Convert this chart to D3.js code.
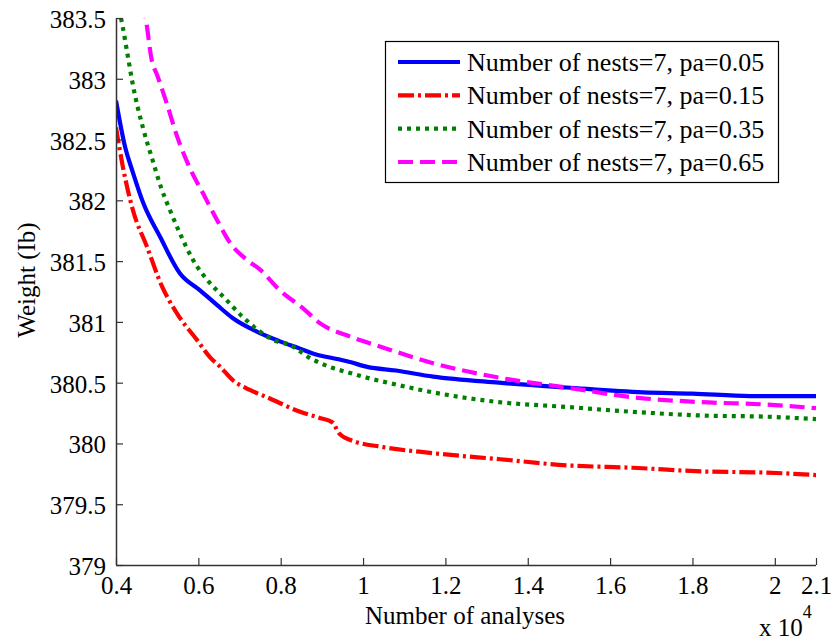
<!DOCTYPE html>
<html>
<head>
<meta charset="utf-8">
<script src="https://cdn.jsdelivr.net/npm/d3@7"></script>
<style>
  html, body { margin: 0; padding: 0; background: #fff; }
  svg { display: block; font-family: "Liberation Serif", "Times New Roman", serif; }
</style>
</head>
<body>
<svg id="chart" width="831" height="641"></svg>
<script>
// ---- data (x in units of 1e4 analyses, y = weight in lb) ----
const xTicks = [0.4, 0.6, 0.8, 1, 1.2, 1.4, 1.6, 1.8, 2, 2.1];
const xTickLabels = ["0.4", "0.6", "0.8", "1", "1.2", "1.4", "1.6", "1.8", "2", "2.1"];
const yTicks = [379, 379.5, 380, 380.5, 381, 381.5, 382, 382.5, 383, 383.5];
const yTickLabels = ["379", "379.5", "380", "380.5", "381", "381.5", "382", "382.5", "383", "383.5"];

const seriesNames = [
  "Number of nests=7, pa=0.05",
  "Number of nests=7, pa=0.15",
  "Number of nests=7, pa=0.35",
  "Number of nests=7, pa=0.65"
];

const pa005 = [[0.400,382.82],[0.422,382.44],[0.441,382.23],[0.466,381.98],[0.507,381.70],[0.555,381.40],[0.604,381.26],[0.645,381.14],[0.684,381.03],[0.742,380.92],[0.798,380.84],[0.847,380.78],[0.878,380.74],[0.944,380.69],[0.968,380.67],[1.01,380.63],[1.08,380.60],[1.17,380.55],[1.33,380.50],[1.495,380.46],[1.68,380.42],[1.80,380.41],[1.94,380.39],[2.10,380.39]];

const pa015 = [[0.400,382.60],[0.417,382.27],[0.441,381.92],[0.475,381.62],[0.512,381.29],[0.548,381.07],[0.597,380.85],[0.628,380.71],[0.653,380.63],[0.684,380.52],[0.725,380.44],[0.767,380.38],[0.847,380.26],[0.895,380.21],[0.927,380.17],[0.940,380.09],[0.968,380.03],[1.049,379.97],[1.17,379.92],[1.333,379.87],[1.495,379.82],[1.655,379.80],[1.82,379.77],[1.98,379.76],[2.10,379.74]];

const pa035 = [[0.400,383.64],[0.412,383.50],[0.427,383.22],[0.441,382.95],[0.466,382.59],[0.488,382.34],[0.510,382.10],[0.531,381.92],[0.555,381.73],[0.587,381.51],[0.628,381.32],[0.660,381.21],[0.708,381.04],[0.750,380.92],[0.790,380.84],[0.815,380.82],[0.878,380.69],[0.927,380.62],[0.968,380.58],[1.01,380.54],[1.06,380.50],[1.17,380.42],[1.33,380.34],[1.495,380.30],[1.655,380.26],[1.82,380.23],[1.98,380.22],[2.10,380.20]];

const pa065 = [[0.465,383.62],[0.472,383.50],[0.487,383.15],[0.500,383.03],[0.524,382.79],[0.548,382.53],[0.580,382.26],[0.611,382.06],[0.645,381.84],[0.677,381.65],[0.718,381.51],[0.750,381.43],[0.798,381.26],[0.855,381.11],[0.895,380.99],[0.968,380.88],[1.048,380.79],[1.17,380.66],[1.333,380.54],[1.495,380.46],[1.655,380.38],[1.82,380.34],[1.98,380.32],[2.10,380.29]];

const seriesData = [pa005, pa015, pa035, pa065];
const seriesColors = ["#0000ff", "#ff0000", "#008000", "#ff00ff"];
const seriesDash = [null, "16,4,3,4", "4,5", "15,7"];

// ---- layout ----
const FONT = '"Liberation Serif", "Times New Roman", serif';
const svg = d3.select("#chart");
const mLeft = 116, mRight = 816, mTop = 18, mBottom = 565;

const x = d3.scaleLinear().domain([0.4, 2.1]).range([mLeft, mRight]);
const y = d3.scaleLinear().domain([379, 383.5]).range([mBottom, mTop]);

// clip
svg.append("defs").append("clipPath").attr("id", "plotclip")
  .append("rect").attr("x", mLeft).attr("y", mTop).attr("width", mRight - mLeft).attr("height", mBottom - mTop);

// lines
const line = d3.line().x(d => x(d[0])).y(d => y(d[1])).curve(d3.curveMonotoneX);
const g = svg.append("g").attr("clip-path", "url(#plotclip)");
seriesData.forEach((s, i) => {
  g.append("path")
    .datum(s)
    .attr("d", line)
    .attr("fill", "none")
    .attr("stroke", seriesColors[i])
    .attr("stroke-width", 4.2)
    .attr("stroke-dasharray", seriesDash[i])
    .attr("stroke-linejoin", "round");
});

// axes
const xAxis = d3.axisBottom(x).tickValues(xTicks).tickSize(-7).tickFormat((d, i) => xTickLabels[i]).tickPadding(14);
const yAxis = d3.axisLeft(y).tickValues(yTicks).tickSize(-7).tickFormat((d, i) => yTickLabels[i]).tickPadding(10);

const gx = svg.append("g").attr("transform", `translate(0,${mBottom})`).call(xAxis);
const gy = svg.append("g").attr("transform", `translate(${mLeft},0)`).call(yAxis);

[gx, gy].forEach(a => {
  a.attr("font-family", FONT).attr("font-size", 25);
  a.select(".domain").attr("stroke", "#333").attr("stroke-width", 1.5);
  a.selectAll(".tick line").attr("stroke", "#333").attr("stroke-width", 1.2);
  a.selectAll(".tick text").attr("fill", "#000").style("font-size", "25px")
    .style("font-family", FONT);
});
gx.select(".domain").attr("d", `M${mLeft},0.5H${mRight}`);
gy.select(".domain").attr("d", `M0.5,${mBottom}V${mTop}`);
gx.selectAll(".tick text").attr("y", 11).attr("dy", "0.71em");
gy.selectAll(".tick text").attr("dy", "0.38em").attr("x", -10);

// axis labels
svg.append("text")
  .attr("x", 465).attr("y", 624)
  .attr("text-anchor", "middle")
  .style("font-size", "25px")
  .text("Number of analyses");

svg.append("text")
  .attr("transform", "translate(35,280) rotate(-90)")
  .attr("text-anchor", "middle")
  .style("font-size", "25px")
  .text("Weight (Ib)");

const mult = svg.append("text").attr("x", 759).attr("y", 636).style("font-size", "25px");
mult.append("tspan").text("x 10");
mult.append("tspan").attr("dy", -18).style("font-size", "18px").text("4");

// legend
const lg = svg.append("g");
lg.append("rect")
  .attr("x", 385.5).attr("y", 41.5).attr("width", 393).attr("height", 141)
  .attr("fill", "#fff").attr("stroke", "#000").attr("stroke-width", 1.2);
const rowY = d3.scaleLinear().domain([0, 3]).range([62, 162]);
seriesNames.forEach((name, i) => {
  const yy = rowY(i);
  lg.append("line")
    .attr("x1", 398).attr("x2", 460).attr("y1", yy).attr("y2", yy)
    .attr("stroke", seriesColors[i]).attr("stroke-width", 4.2)
    .attr("stroke-dasharray", seriesDash[i]);
  lg.append("text")
    .attr("x", 467).attr("y", yy + 9)
    .style("font-size", "26px")
    .text(name);
});
</script>
</body>
</html>
